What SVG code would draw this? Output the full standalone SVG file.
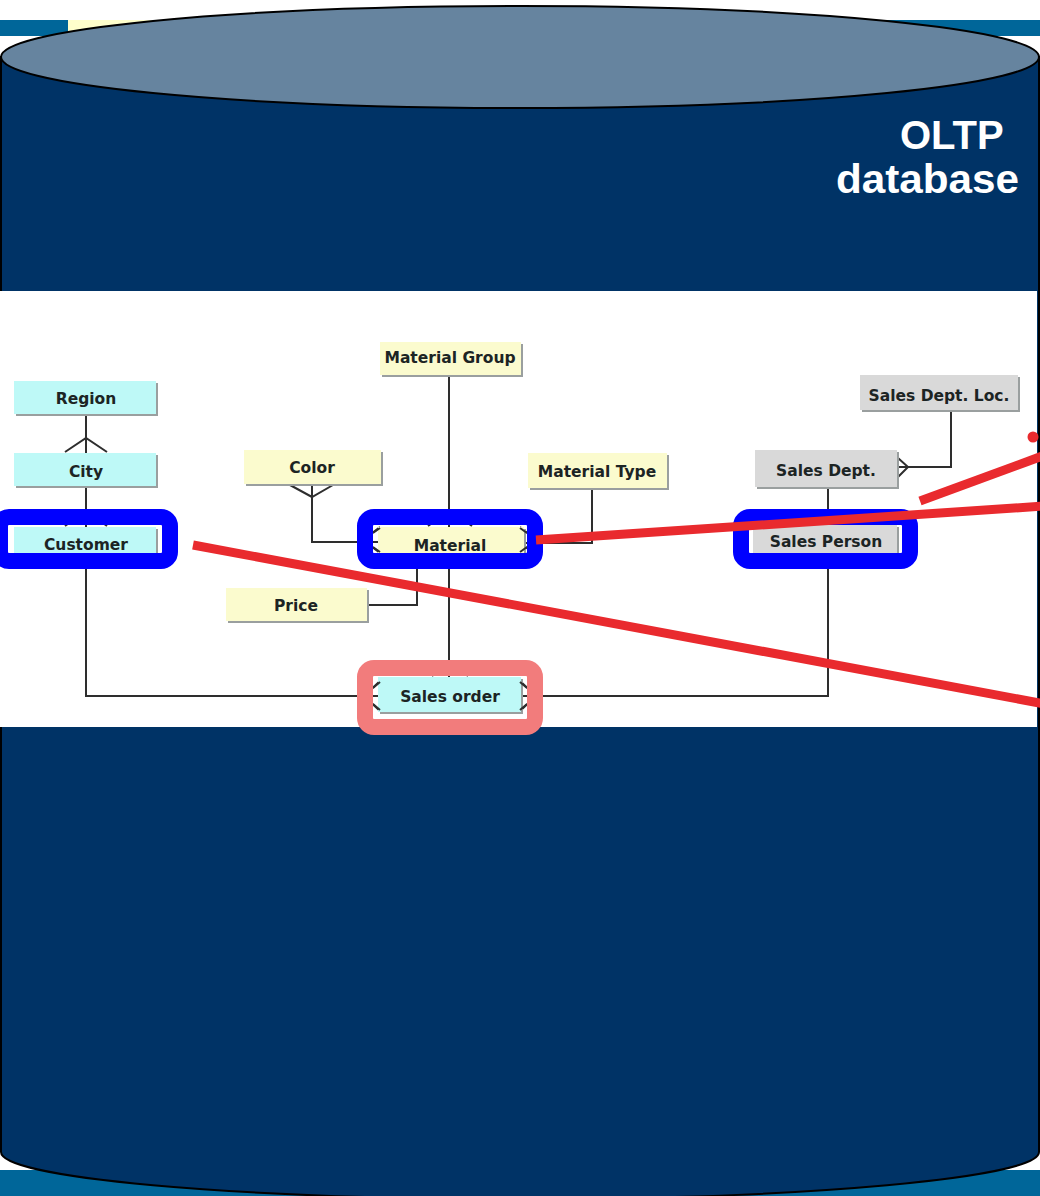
<svg xmlns="http://www.w3.org/2000/svg" width="1040" height="1196" viewBox="0 0 1040 1196">
  <defs>
    <style>
      .can { stroke: #000; stroke-width: 2; }
      .title { font-family: "Liberation Sans", Arial, sans-serif; font-weight: bold; font-size: 40px; fill: #fff; }
      .shadow { fill: #9a9f9f; }
      .cyan { fill: #bef9f7; }
      .yellow { fill: #fbfbce; }
      .grey { fill: #d9d9d9; }
      .label { font-family: "DejaVu Sans", Verdana, sans-serif; font-weight: bold; font-size: 15.5px; fill: #1c2424; text-anchor: middle; }
      .link { fill: none; stroke: #2e2e2e; stroke-width: 2; }
      .focus { fill: none; stroke: #0000ff; stroke-width: 16; }
      .fact { fill: none; stroke: #f27c7c; stroke-width: 16; }
      .pointer { stroke: #e92a2e; stroke-width: 9; fill: none; }
    </style>
  </defs>

  <!-- page background bars -->
  <rect x="0" y="0" width="1040" height="1196" fill="#fff"/>
  <rect x="0" y="20" width="68" height="16" fill="#006699"/>
  <rect x="68" y="20" width="400" height="16" fill="#ffffcc"/>
  <rect x="700" y="20" width="340" height="16" fill="#006699"/>
  <rect x="0" y="1170" width="1040" height="26" fill="#006699"/>

  <!-- database cylinder -->
  <path class="can" d="M1,57 V1152 A519,47 0 0 0 1039,1152 V57 Z" fill="#003366"/>
  <ellipse class="can" cx="520" cy="57" rx="519" ry="51" fill="#66849f"/>
  <text class="title" x="900" y="149">OLTP </text>
  <text class="title" x="836" y="193" textLength="183" lengthAdjust="spacingAndGlyphs">database</text>

  <!-- data model panel -->
  <rect x="0" y="291" width="1037" height="436" fill="#fff"/>

  <g id="connectors">
    <!-- Region - City -->
    <path class="link" d="M86,414 V453 M65,452 L86,438 L107,452"/>
    <!-- City - Customer -->
    <path class="link" d="M86,486 V527 M65,526 L86,511 L107,526"/>
    <!-- Material Group - Material -->
    <path class="link" d="M449,375 V527 M428,526 L450,511 L472,526"/>
    <!-- Color - Material -->
    <path class="link" d="M290,485 L312,497 L333,485 M312,485 V542 H378 M380,527 L363,540 L380,553"/>
    <!-- Material Type - Material -->
    <path class="link" d="M592,489 V543 H524 M520,527 L536,540 L520,553"/>
    <!-- Price - Material -->
    <path class="link" d="M367,605 H417 V560"/>
    <!-- Sales Dept. Loc. - Sales Dept. -->
    <path class="link" d="M951,411 V467 H898 M898,458 L908,467 L898,477"/>
    <!-- Sales Dept. - Sales Person -->
    <path class="link" d="M828,487 V525"/>
    <!-- Material - Sales order -->
    <path class="link" d="M449,560 V677 M432,676 L450,662 L468,676"/>
    <!-- Customer - Sales order -->
    <path class="link" d="M86,560 V696 H378 M380,681 L364,696 L380,711"/>
    <!-- Sales Person - Sales order -->
    <path class="link" d="M828,560 V696 H521 M520,681 L536,696 L520,711"/>
  </g>

  <g id="region">
    <rect class="shadow" x="16" y="383" width="142" height="33"/>
    <rect class="cyan" x="14" y="381" width="142" height="33"/>
    <text class="label" x="86" y="404">Region</text>
  </g>
  <g id="city">
    <rect class="shadow" x="16" y="455" width="142" height="33"/>
    <rect class="cyan" x="14" y="453" width="142" height="33"/>
    <text class="label" x="86" y="477">City</text>
  </g>
  <g id="customer">
    <rect class="shadow" x="16" y="529" width="142" height="33"/>
    <rect class="cyan" x="14" y="527" width="142" height="33"/>
    <text class="label" x="86" y="550">Customer</text>
  </g>
  <g id="material-group">
    <rect class="shadow" x="382" y="344" width="141" height="33"/>
    <rect class="yellow" x="380" y="342" width="141" height="33"/>
    <text class="label" x="450" y="363">Material Group</text>
  </g>
  <g id="color">
    <rect class="shadow" x="246" y="452" width="137" height="34"/>
    <rect class="yellow" x="244" y="450" width="137" height="34"/>
    <text class="label" x="312" y="473">Color</text>
  </g>
  <g id="material-type">
    <rect class="shadow" x="530" y="455" width="139" height="35"/>
    <rect class="yellow" x="528" y="453" width="139" height="35"/>
    <text class="label" x="597" y="477">Material Type</text>
  </g>
  <g id="material">
    <rect class="shadow" x="380" y="529" width="146" height="33"/>
    <rect class="yellow" x="378" y="527" width="146" height="33"/>
    <path class="link" d="M380,528 L373,533 M380,552 L373,547 M520,528 L527,533 M520,552 L527,547"/>
    <text class="label" x="450" y="551">Material</text>
  </g>
  <g id="price">
    <rect class="shadow" x="228" y="590" width="141" height="33"/>
    <rect class="yellow" x="226" y="588" width="141" height="33"/>
    <text class="label" x="296" y="611">Price</text>
  </g>
  <g id="sales-dept-loc">
    <rect class="shadow" x="862" y="377" width="158" height="35"/>
    <rect class="grey" x="860" y="375" width="158" height="35"/>
    <text class="label" x="939" y="401">Sales Dept. Loc.</text>
  </g>
  <g id="sales-dept">
    <rect class="shadow" x="757" y="452" width="142" height="37"/>
    <rect class="grey" x="755" y="450" width="142" height="37"/>
    <text class="label" x="826" y="476">Sales Dept.</text>
  </g>
  <g id="sales-person">
    <rect class="shadow" x="755" y="527" width="144" height="33"/>
    <rect class="grey" x="753" y="525" width="144" height="33"/>
    <text class="label" x="826" y="547">Sales Person</text>
  </g>
  <g id="sales-order">
    <rect class="shadow" x="380" y="679" width="143" height="35"/>
    <rect class="cyan" x="378" y="677" width="143" height="35"/>
    <path class="link" d="M380,682 L373,688 M380,710 L373,704 M520,682 L527,688 M520,710 L527,704"/>
    <text class="label" x="450" y="702">Sales order</text>
  </g>

  <!-- highlight frames -->
  <g id="highlights">
    <rect class="focus" x="0" y="517" width="170" height="44" rx="9"/>
    <rect class="focus" x="365" y="517" width="170" height="44" rx="9"/>
    <rect class="focus" x="741" y="517" width="169" height="44" rx="9"/>
    <rect class="fact" x="365" y="668" width="170" height="59" rx="9"/>
  </g>

  <!-- call-out lines -->
  <g id="pointers">
    <line class="pointer" x1="193" y1="545" x2="1045" y2="704"/>
    <line class="pointer" x1="536" y1="540" x2="1045" y2="506"/>
    <line class="pointer" x1="920" y1="501" x2="1045" y2="455"/>
    <circle cx="1033" cy="437" r="5.5" fill="#e92a2e"/>
  </g>
</svg>
